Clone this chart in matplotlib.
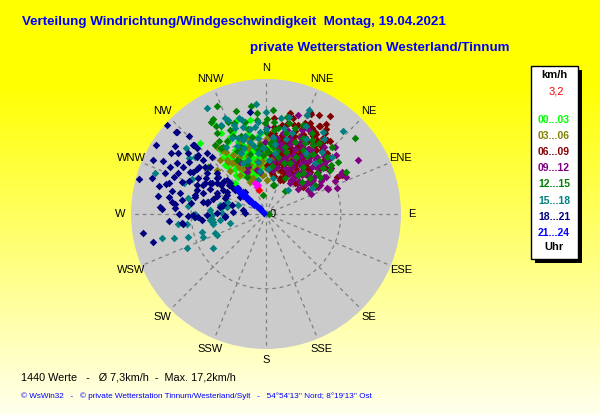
import numpy as np
import matplotlib
matplotlib.use("Agg")
import matplotlib.pyplot as plt
from matplotlib.patches import Rectangle

# ---------------- data (bearing in degrees, speed in km/h) ----------------
directions = ["N", "NNE", "NE", "ENE", "E", "ESE", "SE", "SSE",
              "S", "SSW", "SW", "WSW", "W", "WNW", "NW", "NNW"]
legend_labels = ["00...03", "03...06", "06...09", "09...12",
                 "12...15", "15...18", "18...21", "21...24"]
legend_colors = ["#00ff00", "#808000", "#800000", "#800080",
                 "#008000", "#008080", "#000080", "#0000ff"]

dir_00_03 = [350.3, 346.4, 334.9, 338.7, 341.6, 348, 341, 346.9, 335.1, 328.3, 338, 347.3, 322.4, 329.5,
             334.8, 315, 351.7, 340, 357.5, 329.6, 317.1, 337.9, 324.3, 344.3, 322.9, 6.5, 17, 10.9, 8.5,
             15, 355.3, 349.2, 0, 326.3, 320.1,
             335, 340, 345, 350, 355, 330, 326, 342, 348, 338, 331, 344, 352, 336, 328, 322, 356, 3, 6, 343,
             333, 337, 341, 346, 351, 329, 325, 334, 339, 344, 349, 354, 332, 336, 327, 343, 347, 338, 331,
             321, 353, 358, 340, 345, 335]
spd_00_03 = [12.4, 11.6, 11.0, 10.0, 9.4, 8.8, 8.4, 7.5, 8.0, 7.2, 6.6, 6.5, 6.4, 5.9,
             4.9, 5.7, 5.4, 6.1, 9.0, 13.8, 12.6, 9.0, 10.2, 7.7, 6.0, 8.0, 8.4, 11.6, 9.7,
             9.5, 6.4, 5.5, 7.0, 8.4, 8.3,
             7.0, 8.0, 7.0, 8.3, 7.6, 8.8, 9.6, 10.1, 9.8, 5.5, 6.4, 5.3, 6.0, 9.4, 7.7, 9.2, 10.4, 8.6, 10.2, 12.8,
             7.5, 7.6, 7.0, 8.4, 7.3, 8.2, 7.1, 9.3, 8.6, 9.0, 9.3, 8.6, 10.5, 6.0, 9.0, 5.8, 10.6, 11.5, 12.0,
             7.8, 10.0, 8.1, 4.9, 6.2, 5.3]

dir_03_06 = [325.5, 324.2, 341.9, 354.1, 333.4, 326.3, 1.7, 330.8, 352.9, 7.7, 323.8, 326.3, 311.9, 319.6,
             330.4, 349.7, 355.6, 340.6, 346, 9.3, 17.5, 10.7, 20, 15.6, 20.7, 7, 27.3, 15.3,
             330, 335, 340, 345, 350, 355, 3, 8, 12, 18, 25, 320, 327, 338, 348, 0, 14, 22,
             333, 337, 343, 352, 358, 5, 10, 16, 23, 329, 324, 339, 347, 1, 12, 19, 341, 335, 356, 9]
spd_03_06 = [10.1, 8.6, 6.7, 5.1, 4.6, 6.1, 4.4, 8.8, 8.4, 6.8, 8.4, 8.0, 8.5, 9.2,
             7.6, 5.8, 5.1, 10.2, 10.2, 8.8, 7.3, 9.8, 9.1, 8.2, 10.3, 7.4, 9.1, 5.9,
             7.0, 8.2, 7.3, 8.9, 7.0, 9.2, 8.1, 9.5, 8.0, 10.6, 9.8, 7.3, 9.6, 9.5, 6.0, 6.0, 6.8, 8.0,
             6.6, 9.0, 7.9, 6.4, 7.6, 7.2, 6.6, 9.2, 11.0, 7.9, 10.8, 6.2, 9.5, 9.8, 10.5, 8.0, 5.0, 5.4, 6.9, 5.1]

dir_06_09 = [13.4, 23.3, 4.8, 10.2, 23.2, 31.5, 33.1, 35.8, 39.5, 30.9, 62.8, 62.5, 27.6, 12.5, 5.2,
             26.6, 45, 52.3, 26.9, 17.4, 8.5, 17.5, 22.5, 33.7, 31.1, 34.6, 38.4, 33.5, 29.8, 29.9,
             22, 19.9, 12.2, 38.1, 46.3, 30.3, 22.4, 43.1, 53.9, 51.5, 15, 17.3, 5.3, 5.6, 11.4,
             17.1, 6.7, 1.2, 21.3, 8.3, 26,
             15, 18, 20, 22, 25, 27, 28, 30, 32, 34, 36, 38, 40, 42, 44, 24, 19, 13, 11, 14,
             16, 20, 26, 29, 35, 41, 46, 48, 50, 33, 37, 12, 9, 6, 3, 4, 8, 23, 31, 39,
             14, 17, 21, 24, 27, 31, 34, 37, 41, 19, 23, 28, 32, 36, 12, 16, 25, 29, 33, 38,
             43, 47, 21, 26, 30, 35, 15, 18, 10, 7, 24, 28, 34, 40, 45, 20, 13, 31, 37, 27]
spd_06_09 = [13.5, 14.4, 12.5, 11.7, 12.8, 13.4, 15.2, 11.5, 12.4, 12.4, 11.1, 10.4, 6.7, 7.2, 5.7,
             4.9, 5.7, 7.2, 9.7, 9.1, 9.7, 12.1, 13.9, 14.0, 13.3, 11.7, 11.9, 10.1, 9.1, 8.1,
             7.3, 6.5, 6.8, 8.4, 7.9, 6.2, 4.8, 5.5, 5.9, 9.8, 9.5, 10.5, 11.3, 10.6, 10.5,
             7.1, 6.7, 6.4, 5.0, 5.4, 5.6,
             8.0, 9.5, 10.8, 8.6, 7.6, 11.2, 9.9, 10.9, 8.9, 7.0, 9.3, 10.5, 8.1, 9.6, 10.9, 6.1, 5.9, 8.7, 9.9, 11.2,
             12.9, 12.3, 13.1, 12.0, 13.5, 12.6, 8.9, 7.3, 9.2, 6.3, 5.3, 5.0, 7.6, 8.9, 10.4, 7.8, 6.0, 9.0, 11.8, 11.3,
             7.0, 8.3, 9.2, 10.0, 8.6, 7.4, 9.8, 10.6, 11.0, 11.4, 12.0, 12.6, 12.2, 13.0, 10.2, 9.7, 11.5, 9.3, 8.5, 7.7,
             8.0, 10.2, 6.0, 7.2, 8.8, 10.8, 8.4, 6.9, 8.1, 10.1, 14.2, 14.5, 9.0, 9.9, 11.2, 10.4, 12.0, 7.9, 12.3, 5.5]

dir_09_12 = [25.6, 37.7, 47.3, 48.5, 48.8, 52.9, 61.1, 66.9, 59.6, 37.1, 25.5, 13.2, 348.4, 339, 9.6,
             14, 354.6, 17.9, 11.9, 23.8, 35.7, 41.8, 24.6, 9.3, 9, 29, 42.7, 54.1, 61.8, 68, 52,
             37.7, 0.7, 8.2, 359.2, 12, 8.7, 351.9, 335.7, 333.4,
             20, 24, 28, 32, 36, 40, 44, 48, 52, 56, 58, 63, 45, 38, 30, 22, 17, 26, 34, 42,
             50, 55, 64, 18, 12, 7, 5, 46, 60, 66,
             21, 27, 31, 35, 39, 43, 47, 51, 55, 59, 62, 33, 41, 49, 57, 29, 37, 45, 53, 16,
             23, 19, 14, 44, 50, 65, 70, 36, 27, 61]
spd_09_12 = [10.2, 9.3, 9.0, 10.6, 11.0, 6.7, 7.3, 8.6, 13.8, 6.7, 6.3, 6.3, 5.8, 6.5, 9.3,
             11.2, 8.3, 13.5, 10.7, 10.9, 10.2, 9.9, 8.4, 8.8, 5.8, 7.0, 6.9, 7.5, 8.0, 8.7, 5.3,
             5.1, 11.3, 10.0, 9.3, 8.7, 7.7, 5.5, 6.0, 7.5,
             8.0, 9.2, 8.1, 9.3, 8.3, 7.3, 8.5, 9.5, 8.1, 7.0, 9.1, 7.6, 6.0, 5.9, 6.0, 6.5, 7.5, 10.5, 11.0, 10.8,
             11.9, 10.3, 9.9, 10.2, 9.3, 6.8, 9.9, 12.5, 6.3, 6.4,
             7.2, 7.6, 8.6, 7.7, 8.8, 9.5, 7.6, 8.7, 9.9, 8.3, 10.9, 10.0, 11.5, 9.9, 8.9, 9.8, 6.3, 10.6, 6.4, 8.6,
             11.8, 9.6, 7.2, 7.2, 6.0, 11.4, 9.8, 5.5, 12.2, 11.2]

dir_12_15 = [335.6, 330.4, 328.8, 329.1, 337.6, 336.8, 327.2, 327.3, 354.9, 354.5, 0.6, 6, 18.6, 22.6,
             29.6, 49.5, 54.2, 55.5, 51.2, 38.2, 39.4, 39.6, 351, 13.6, 90, 309, 332.8, 5, 5.4, 6.2,
             13.9, 12.2, 28.8, 30, 34.3, 36.7, 51.1, 55.6, 50.7, 48.4, 62.3, 44.6, 27.8, 15.4, 59.4,
             330.8, 331.9, 325.7, 340.6, 323.5, 359.4,
             340, 345, 350, 355, 2, 10, 16, 22, 28, 35, 42, 332, 337, 347, 0, 8, 4, 352, 20, 45,
             342, 348, 353, 357, 3, 7, 12, 18, 25, 32, 38, 335, 344, 0, 14, 26, 47, 53, 333, 339]
spd_12_15 = [15.4, 13.1, 12.3, 13.9, 12.9, 11.9, 11.3, 10.3, 13.2, 12.2, 12.3, 8.7, 11.8, 12.5,
             12.1, 15.2, 11.5, 10.1, 8.5, 7.8, 6.5, 3.9, 2.5, 3.9, 0.4, 9.7, 5.4, 12.0, 10.9, 9.7,
             10.8, 12.9, 10.5, 9.6, 10.8, 11.5, 9.5, 8.5, 7.4, 6.2, 11.7, 12.2, 5.3, 3.9, 7.4,
             14.1, 10.7, 10.4, 12.5, 11.1, 11.8,
             9.3, 8.1, 10.2, 9.0, 8.0, 8.3, 9.0, 10.0, 8.4, 9.2, 7.2, 8.0, 11.0, 12.2, 10.6, 11.3, 13.5, 14.2, 7.0, 9.8,
             10.6, 11.3, 8.3, 7.7, 9.2, 6.3, 7.6, 8.4, 7.3, 11.3, 9.9, 9.0, 13.9, 8.4, 12.2, 11.0, 10.8, 10.5, 12.8, 7.0]

dir_15_18 = [309.6, 308.8, 306, 290.4, 295.2, 290.7, 281.6, 275.8, 270, 274.1, 269, 264.7, 271.3, 262.6,
             263.5, 257, 255.4, 253.6, 254.3, 249.6, 261.4, 279, 287.1, 281.5, 262.8, 250, 246.8,
             237.3, 246.7, 256, 287.8, 279.8, 267.6, 263.9, 259.3, 281,
             330.9, 336.9, 338, 344.3, 345.2, 340.2, 335.9, 339.8, 329.2, 341.6, 347.5, 341.6, 335.7,
             352.5, 351.3, 354, 355.8, 354.8,
             8.9, 13.3, 24.4, 22.5, 22.5, 34.8, 49.2, 42.1, 43.9, 42.5, 42.9, 60.5, 11,
             345, 350, 355, 0, 5, 340, 333, 8, 15, 352, 347, 338,
             349, 357, 3, 7, 343, 337, 12, 18, 28, 0, 353, 346, 33, 38, 2]
spd_15_18 = [13.4, 11.8, 12.3, 15.3, 10.6, 11.4, 10.3, 10.2, 9.2, 7.3, 7.0, 7.0, 5.7, 6.0,
             11.5, 13.8, 12.3, 10.5, 8.6, 7.1, 7.0, 5.8, 5.3, 7.8, 10.3, 8.7, 6.9,
             8.2, 11.2, 4.8, 3.8, 5.1, 9.3, 7.3, 7.0, 6.1,
             15.7, 13.5, 13.2, 12.9, 11.7, 11.9, 10.8, 10.5, 10.1, 9.0, 9.6, 7.4, 7.3,
             8.0, 6.8, 9.9, 10.7, 14.3,
             12.6, 12.9, 12.5, 14.6, 13.9, 13.0, 11.3, 10.8, 9.2, 4.2, 14.7, 6.8, 4.8,
             10.5, 9.0, 12.0, 11.0, 10.0, 12.3, 12.9, 8.0, 10.0, 5.6, 4.5, 8.5,
             11.2, 8.6, 7.0, 9.2, 10.0, 9.6, 11.4, 11.0, 11.0, 13.2, 11.4, 12.6, 9.5, 12.3, 5.8]

dir_18_21 = [302.3, 312.3, 315.4, 313.8, 306.8, 302.9, 304.7, 295.5, 297.2, 299.8, 299.5, 292.1, 295,
             298.9, 303.1, 285.4, 287.5, 284.8, 286.7, 290.9, 297.9, 304.8, 299, 302.3, 292.8, 279.5,
             277.3, 283.7, 279.5, 283.5, 280.8, 280.6, 293.2, 291.3, 299.4, 273.8, 273.8, 269.2,
             264.6, 267.6, 263.1, 269, 278.7, 271.2, 265.8, 273.5,
             312, 312.7, 313.4, 315.9, 310, 306.3, 311.1, 310.7, 308.2, 295.9, 290.2, 281.7, 288.4,
             285, 279.9, 285, 307.6, 316.5, 309.6, 312.9, 316.3, 303.2, 351.1, 310.6, 307.6, 299.9,
             294.7, 305.2, 307.7, 308, 308, 261.2, 256.1, 268.5, 272.7, 267.2, 273, 263.9, 267.5,
             300, 304, 308, 296, 292, 288, 284, 280, 276, 301, 305, 297, 293, 289, 311, 314, 303,
             299, 294, 286, 282, 278, 270, 266, 310]
spd_18_21 = [16.8, 15.8, 14.2, 12.9, 14.7, 14.6, 13.9, 16.2, 15.0, 13.3, 12.4, 14.1, 12.6,
             11.3, 10.7, 17.1, 15.5, 14.4, 13.5, 11.7, 10.0, 9.3, 8.3, 7.5, 9.7, 14.2,
             12.3, 11.5, 11.0, 9.5, 8.3, 7.8, 6.9, 5.7, 5.8, 13.8, 11.8, 9.5,
             8.3, 9.2, 10.8, 7.7, 6.0, 6.4, 5.3, 4.3,
             17.2, 15.7, 13.0, 11.0, 9.5, 7.9, 6.7, 6.2, 5.4, 5.6, 6.8, 7.7, 8.6,
             9.5, 3.0, 4.6, 7.9, 10.2, 11.6, 5.0, 3.9, 4.0, 13.4, 10.8, 10.0, 8.1,
             9.0, 7.0, 5.1, 6.1, 6.9, 16.1, 15.1, 10.1, 2.7, 5.3, 13.5, 11.0, 8.8,
             11.0, 12.0, 12.8, 13.8, 12.9, 13.2, 12.5, 12.8, 11.9, 9.0, 10.6, 8.9, 10.8, 9.4, 11.6, 12.4, 7.0,
             6.3, 8.0, 7.1, 5.7, 9.8, 11.3, 12.6, 8.3]

dir_21_24 = [309, 310, 308, 311, 309, 310, 312, 308, 310, 309, 311, 310, 308, 312, 309, 310, 311,
             309, 310, 312, 308, 310, 307, 313]
spd_21_24 = [0.3, 0.6, 0.9, 1.1, 1.4, 1.6, 1.9, 2.1, 2.4, 2.6, 2.9, 3.1, 3.3, 3.6, 3.8, 4.0, 4.3,
             4.5, 4.8, 5.0, 2.0, 3.4, 2.8, 4.1]

dir_recent = [340.5, 344.6, 341.6]
spd_recent = [4.3, 3.9, 3.7]
dir_current = [343.0]
spd_current = [3.2]

n_values = 1440
mean_speed = "7,3"
max_speed = "17,2"
current_label = "3,2"

RMAX = 17.5
RING = 9.7

groups = [(dir_00_03, spd_00_03), (dir_03_06, spd_03_06), (dir_06_09, spd_06_09),
          (dir_09_12, spd_09_12), (dir_12_15, spd_12_15), (dir_15_18, spd_15_18),
          (dir_18_21, spd_18_21), (dir_21_24, spd_21_24)]

# ---------------- figure ----------------
W, H = 600, 415
fig = plt.figure(figsize=(W / 100, H / 100), dpi=100)

# background gradient
bg = fig.add_axes([0, 0, 1, 1], zorder=-10)
t = np.linspace(0, 1, H)
blue = np.clip((t - 0.2) / 0.8, 0, 1) * 238
img = np.zeros((H, 2, 3))
img[:, :, 0] = 1.0
img[:, :, 1] = 1.0
img[:, :, 2] = (blue / 255.0)[:, None]
bg.imshow(img, aspect="auto", extent=[0, 1, 0, 1], origin="upper")
bg.set_axis_off()

SANS = ["Liberation Sans", "DejaVu Sans"]

def fx(px):
    return px / W

def fy(py):
    return 1 - py / H

# polar axes
cx, cy, R = 266, 214, 135
ax = fig.add_axes([fx(cx - R), fy(cy + R), 2 * R / W, 2 * R / H], projection="polar")
ax.set_theta_zero_location("N")
ax.set_theta_direction(-1)
ax.set_ylim(0, RMAX)
ax.set_facecolor("#cbcbcb")
ax.grid(False)
ax.set_xticks([])
ax.set_yticks([])
ax.spines["polar"].set_visible(False)

grid_kw = dict(color="#808080", lw=0.9, ls=(0, (3, 3)), zorder=1)
for i in range(16):
    th = np.deg2rad(i * 22.5)
    ax.plot([th, th], [0, RMAX], **grid_kw)
circ = np.linspace(0, 2 * np.pi, 361)
ax.plot(circ, np.full_like(circ, RING), **grid_kw)

for k, (d, s) in enumerate(groups):
    ax.scatter(np.deg2rad(d), s, marker="D", s=15, c=legend_colors[k], linewidths=0, zorder=3 + k)
ax.scatter(np.deg2rad(dir_recent), spd_recent, marker="D", s=15, c="#ff00ff", linewidths=0, zorder=20)
ax.scatter(np.deg2rad(dir_current), spd_current, marker="D", s=15, c="#ff0000", linewidths=0, zorder=21)

LABEL_R = RMAX * 146 / 135
for i, name in enumerate(directions):
    ax.text(np.deg2rad(i * 22.5), LABEL_R, name, ha="center", va="center",
            fontsize=8, family=SANS, clip_on=False)
ax.annotate("0", xy=(0, 0), xytext=(2.5, 0), textcoords="offset points",
            ha="left", va="center", fontsize=8, family=SANS)

# titles
fig.text(fx(22), fy(22), "Verteilung Windrichtung/Windgeschwindigkeit  Montag, 19.04.2021",
         color="#0000ff", fontsize=9.6, fontweight="bold", family=SANS, ha="left", va="center")
fig.text(fx(250), fy(48), "private Wetterstation Westerland/Tinnum",
         color="#0000ff", fontsize=9.6, fontweight="bold", family=SANS, ha="left", va="center")

# legend box
fig.patches.append(Rectangle((fx(535), fy(263)), (582 - 535) / W, (263 - 70) / H,
                             transform=fig.transFigure, facecolor="black", edgecolor="none", zorder=1))
fig.patches.append(Rectangle((fx(531), fy(259)), (578 - 531) / W, (259 - 66) / H,
                             transform=fig.transFigure, facecolor="white", edgecolor="black",
                             lw=1, zorder=2))
lx = fx(554)
fig.text(lx, fy(75), "km/h", fontsize=8, fontweight="bold", family=SANS, ha="center", va="center")
fig.text(lx + 2 / W, fy(92), current_label, fontsize=8, color="#ff0000", family=SANS, ha="center", va="center")
for k, lab in enumerate(legend_labels):
    fig.text(lx, fy(120 + 16.1 * k), lab, fontsize=7.5, fontweight="bold", color=legend_colors[k],
             family=SANS, ha="center", va="center")
fig.text(lx, fy(247), "Uhr", fontsize=8, fontweight="bold", family=SANS, ha="center", va="center")

# footer
fig.text(fx(21), fy(377), f"{n_values} Werte   -   Ø {mean_speed}km/h  -  Max. {max_speed}km/h",
         fontsize=7.8, family=SANS, ha="left", va="center")
fig.text(fx(21), fy(396),
         "© WsWin32   -   © private Wetterstation Tinnum/Westerland/Sylt   -   54°54'13'' Nord; 8°19'13'' Ost",
         fontsize=5.85, color="#0000ff", family=SANS, ha="left", va="center")

fig.savefig("out.png", dpi=100)
